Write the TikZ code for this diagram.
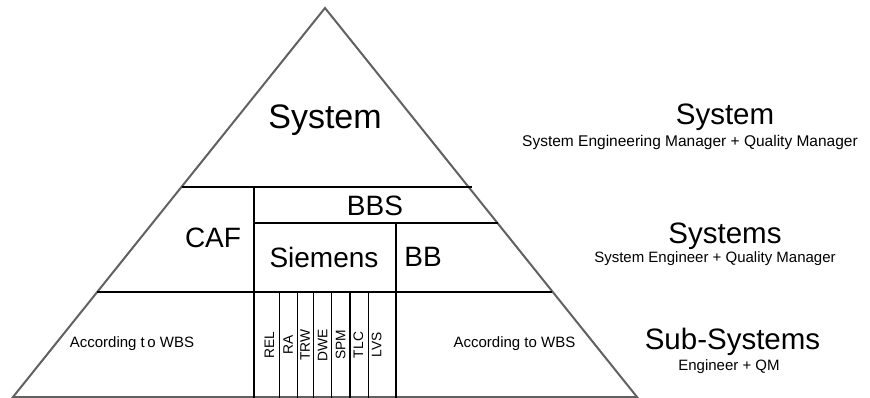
\documentclass[tikz,border=0pt]{standalone}
\usepackage{fontspec}
\setmainfont{Liberation Sans}
\begin{document}
\begin{tikzpicture}[x=1pt,y=-1pt,
  sideline/.style={draw=black!62,line width=2pt,line join=miter},
  divline/.style={draw=black,line width=1.9pt},
  thinline/.style={draw=black,line width=1.2pt},
  hugetxt/.style={inner sep=0pt,font=\fontsize{34}{40}\selectfont},
  bigtxt/.style={inner sep=0pt,font=\fontsize{28}{32}\selectfont},
  headtxt/.style={inner sep=0pt,font=\fontsize{29.5}{34}\selectfont},
  roletxt/.style={inner sep=0pt,font=\fontsize{15.5}{18}\selectfont},
  wbstxt/.style={inner sep=0pt,font=\fontsize{15}{18}\selectfont},
  rottxt/.style={inner sep=0pt,rotate=90,font=\fontsize{13.8}{16}\selectfont}]
\useasboundingbox (0,0) rectangle (870,398);
\fill[white] (0,0) rectangle (870,398);

% pyramid outline
\coordinate (apex) at (325,8);
\coordinate (bl) at (13,397);
\coordinate (br) at (637,397);
\draw[sideline] (bl) -- (apex) -- (br) -- cycle;

% horizontal dividers
\coordinate (t1l) at (181.5,186.7);
\coordinate (t1r) at (471.5,186.7);
\coordinate (t2l) at (254,222.7);
\coordinate (t2r) at (498,222.7);
\coordinate (t3l) at (97,292.3);
\coordinate (t3r) at (552,292.3);
\draw[divline] (t1l) -- (t1r);
\draw[divline] (t2l) -- (t2r);
\draw[divline] (t3l) -- (t3r);

% vertical dividers
\coordinate (v1t) at (254,186.7);
\coordinate (v1b) at (254,398);
\coordinate (v2t) at (395.7,222.7);
\coordinate (v2b) at (395.7,398);
\draw[divline] (v1t) -- (v1b);
\draw[divline] (v2t) -- (v2b);

% sub-system columns under Siemens
\foreach \xx/\nm in {279.3/c1,297.3/c2,313.3/c3,331.7/c4,350/c5,368.3/c6}{
  \coordinate (\nm t) at (\xx,292.3);
  \coordinate (\nm b) at (\xx,398);
  \draw[thinline] (\nm t) -- (\nm b);
}

% labels inside the pyramid
\node[hugetxt] (sys) at (325,120) {System};
\node[bigtxt] (bbs) at (375,206) {BBS};
\node[bigtxt] (caf) at (213,238) {CAF};
\node[bigtxt] (siem) at (324,257) {Siemens};
\node[bigtxt] (bb) at (423,257) {BB};
\node[wbstxt] (wbsl) at (132,344) {According t\,o WBS};
\node[wbstxt] (wbsr) at (514.5,344) {According to WBS};

\node[rottxt] (rel) at (269.3,345) {REL};
\node[rottxt] (ra) at (288,345) {RA};
\node[rottxt] (trw) at (305,345) {TRW};
\node[rottxt] (dwe) at (322.7,345) {DWE};
\node[rottxt] (spm) at (340.7,345) {SPM};
\node[rottxt] (tlc) at (358.3,345) {TLC};
\node[rottxt] (lvs) at (376.7,345) {LVS};

% level descriptions
\node[headtxt] (h1) at (725,117) {System};
\node[roletxt] (r1) at (690,142) {System Engineering Manager + Quality Manager};
\node[headtxt] (h2) at (725,236) {Systems};
\node[roletxt,font=\fontsize{15}{18}\selectfont] (r2) at (715,258.5) {System Engineer + Quality Manager};
\node[headtxt] (h3) at (732.5,342) {Sub-Systems};
\node[roletxt,font=\fontsize{15}{18}\selectfont] (r3) at (729,367) {Engineer + QM};
\end{tikzpicture}
\end{document}
